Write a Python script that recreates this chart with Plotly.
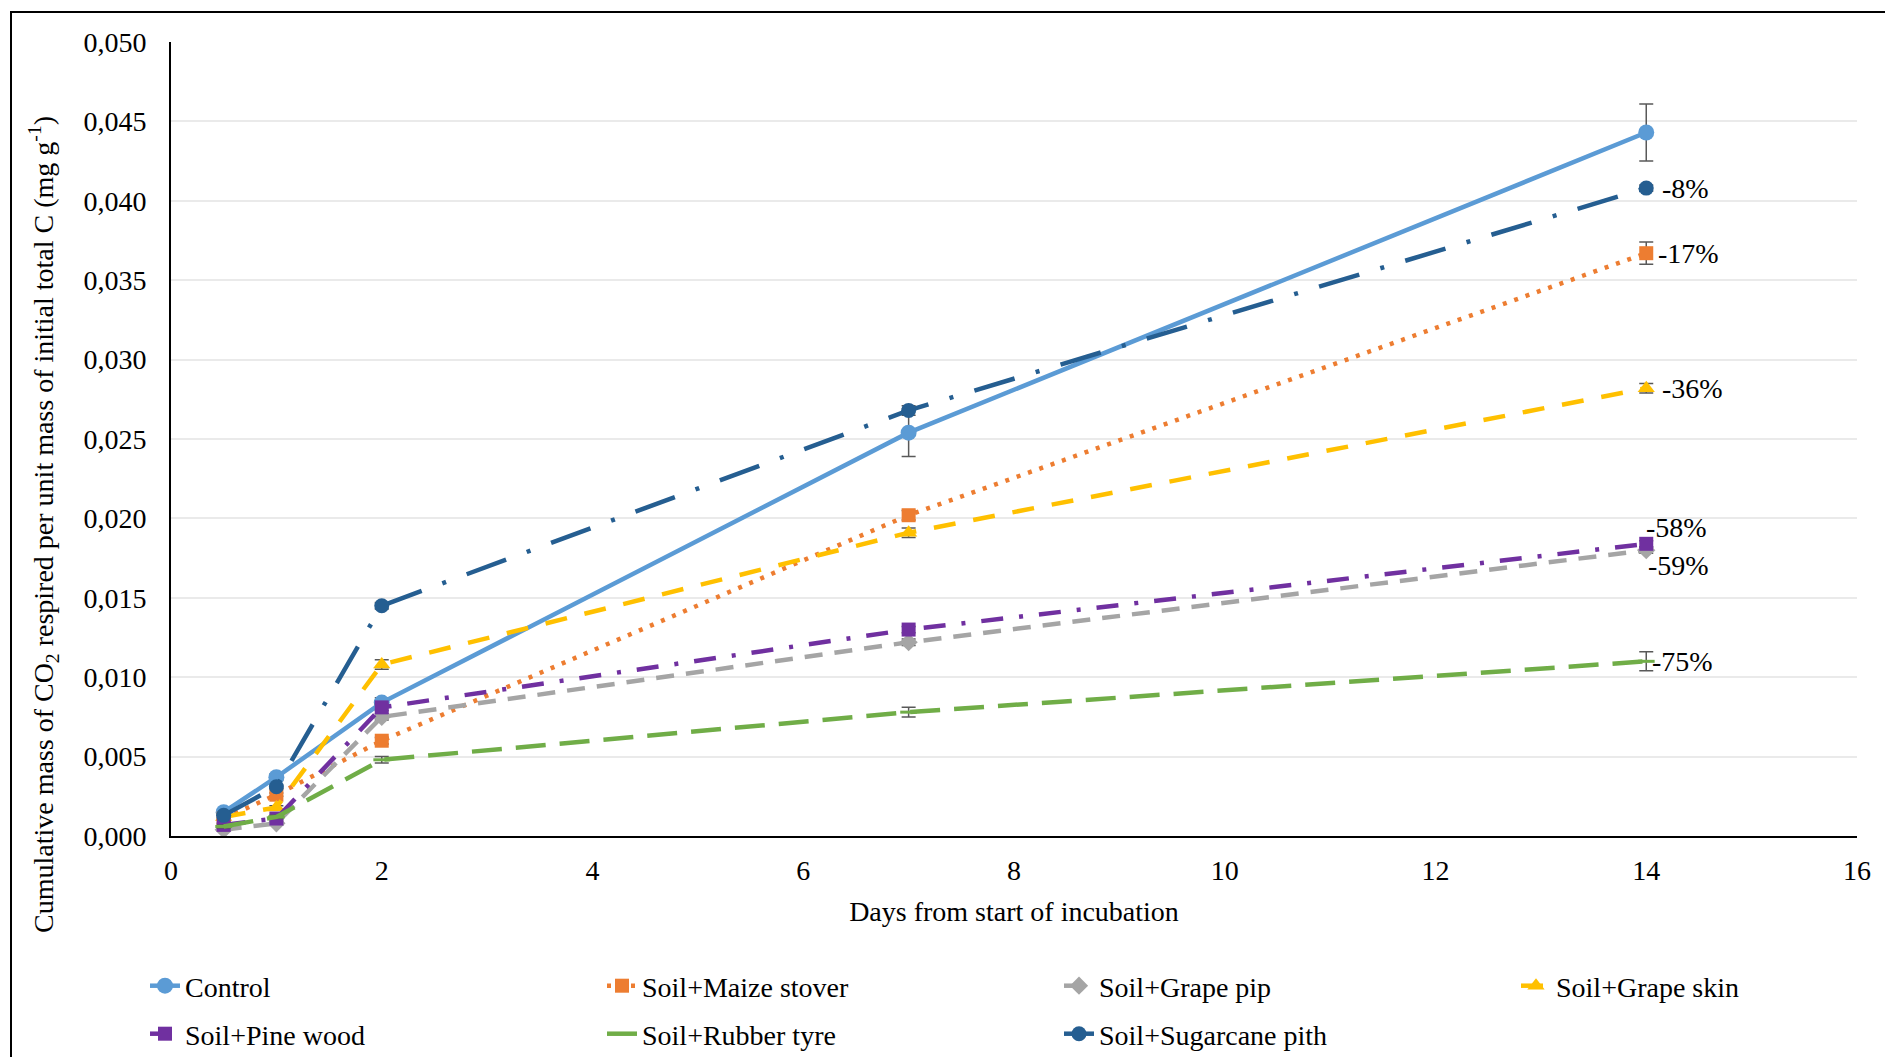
import plotly.graph_objects as go

# Sampling days
days = [0.5, 1, 2, 7, 14]

# Cumulative CO2-C respired (mg g-1 initial total C)
control = [0.0015, 0.0037, 0.0084, 0.0254, 0.0443]
maize_stover = [0.0011, 0.0026, 0.0060, 0.0202, 0.0367]
grape_pip = [0.0004, 0.0008, 0.0075, 0.0122, 0.0180]
grape_skin = [0.0012, 0.0018, 0.0108, 0.0191, 0.0282]
pine_wood = [0.0007, 0.0011, 0.0081, 0.0130, 0.0184]
rubber_tyre = [0.0006, 0.0012, 0.0048, 0.0078, 0.0110]
sugarcane_pith = [0.0013, 0.0031, 0.0145, 0.0268, 0.0408]

# Standard errors
control_err = [0.0001, 0.0002, 0.0003, 0.0015, 0.0018]
maize_err = [0.0001, 0.0001, 0.0002, 0.0003, 0.0007]
grape_pip_err = [0.0001, 0.0001, 0.0002, 0.0002, 0.0002]
grape_skin_err = [0.0001, 0.0001, 0.0003, 0.0003, 0.0003]
pine_err = [0.0001, 0.0001, 0.0002, 0.0002, 0.0002]
rubber_err = [0.0001, 0.0001, 0.0002, 0.0003, 0.0006]
sugarcane_err = [0.0001, 0.0001, 0.0002, 0.0003, 0.0002]

# Change relative to control at day 14
pct_labels = ["-8%", "-17%", "-36%", "-58%", "-59%", "-75%"]

FONT = "Liberation Serif"
FS = 28

# name, values, errors, colour, dash, marker symbol, marker size, legend slot
series = [
    ("Control", control, control_err, "#5B9BD5", "solid", "circle", 16, "legend"),
    ("Soil+Maize stover", maize_stover, maize_err, "#ED7D31", "4px,8px", "square", 14, "legend"),
    ("Soil+Grape pip", grape_pip, grape_pip_err, "#A5A5A5", "18px,12px", "diamond", 14, "legend"),
    ("Soil+Grape skin", grape_skin, grape_skin_err, "#FFC000", "22px,18px", "triangle-up", 15, "legend3"),
    ("Soil+Pine wood", pine_wood, pine_err, "#7030A0", "22px,16px,4px,16px", "square", 14, "legend2"),
    ("Soil+Rubber tyre", rubber_tyre, rubber_err, "#70AD47", "30px,14px", "line-ew", 12, "legend2"),
    ("Soil+Sugarcane pith", sugarcane_pith, sugarcane_err, "#255E91", "42px,22px,4px,22px", "circle", 15, "legend2"),
]

fig = go.Figure()
for name, vals, err, color, dash, symbol, msize, leg in series:
    marker = dict(symbol=symbol, size=msize, color=color,
                  line=dict(color=color, width=3 if symbol == "line-ew" else 0))
    fig.add_trace(go.Scatter(
        x=days, y=vals, name=name, mode="lines+markers", legend=leg,
        line=dict(color=color, width=4.5, dash=dash),
        marker=marker,
        error_y=dict(type="data", array=err, visible=True,
                     color="#595959", thickness=1.5, width=7),
    ))

# Percentage labels next to the day-14 points
label_pos = [
    (sugarcane_pith[-1], 14, 0),
    (maize_stover[-1], 10, 0),
    (grape_skin[-1], 14, 0),
    (pine_wood[-1], -2, 16),
    (grape_pip[-1], 0, -15),
    (rubber_tyre[-1], 4, 0),
]
for text, (yv, xs, ys) in zip(pct_labels, label_pos):
    fig.add_annotation(x=days[-1], y=yv, text=text, showarrow=False,
                       xanchor="left", yanchor="middle", xshift=xs, yshift=ys,
                       font=dict(family=FONT, size=FS, color="black"))

L, R, T, B = 171, 28, 42, 221
W, H = 1885, 1057
pw, ph = W - L - R, H - T - B

# Y-axis title, centred lower than the plot area
fig.add_annotation(
    xref="paper", yref="paper", x=(43 - L) / pw, y=(T + ph - 525) / ph,
    text="Cumulative mass of CO<sub>2</sub> respired per unit mass of initial total C (mg g<sup>-1</sup>)",
    textangle=-90, showarrow=False, xanchor="center", yanchor="middle",
    font=dict(family=FONT, size=FS, color="black"))

# Outer frame
fig.add_shape(type="rect", xref="paper", yref="paper",
              x0=(11 - L) / pw, x1=(W + 10 - L) / pw,
              y0=-(H + 10 - (T + ph)) / ph, y1=(T + ph - 12) / ph,
              line=dict(color="black", width=2), fillcolor="rgba(0,0,0,0)", layer="below")

legend_common = dict(orientation="h", xref="container", yref="container",
                     xanchor="left", yanchor="middle",
                     entrywidth=412, entrywidthmode="pixels",
                     font=dict(family=FONT, size=FS, color="black"),
                     bgcolor="rgba(0,0,0,0)")
col_step = 457
leg_x0 = 145

fig.update_layout(
    width=W, height=H,
    margin=dict(l=L, r=R, t=T, b=B),
    paper_bgcolor="white", plot_bgcolor="white",
    separators=", ",
    font=dict(family=FONT, size=FS, color="black"),
    showlegend=True,
    legend=dict(legend_common, x=leg_x0 / W, y=1 - 986 / H),
    legend3=dict(legend_common, x=(leg_x0 + 3 * col_step) / W, y=1 - 986 / H),
    legend2=dict(legend_common, x=leg_x0 / W, y=1 - 1034 / H),
    xaxis=dict(range=[0, 16], dtick=2, tick0=0, showgrid=False, zeroline=False,
               showline=True, linecolor="black", linewidth=2, ticks="",
               ticklabelstandoff=8,
               tickfont=dict(family=FONT, size=FS, color="black"),
               title=dict(text="Days from start of incubation", standoff=17,
                          font=dict(family=FONT, size=FS, color="black"))),
    yaxis=dict(range=[0, 0.05], dtick=0.005, tick0=0, tickformat=".3f",
               showgrid=True, gridcolor="#EAEAEA", gridwidth=1.5,
               zeroline=False, showline=True, linecolor="black", linewidth=2,
               ticks="", ticklabelstandoff=17,
               tickfont=dict(family=FONT, size=FS, color="black")),
)

fig.write_html("out.html")
